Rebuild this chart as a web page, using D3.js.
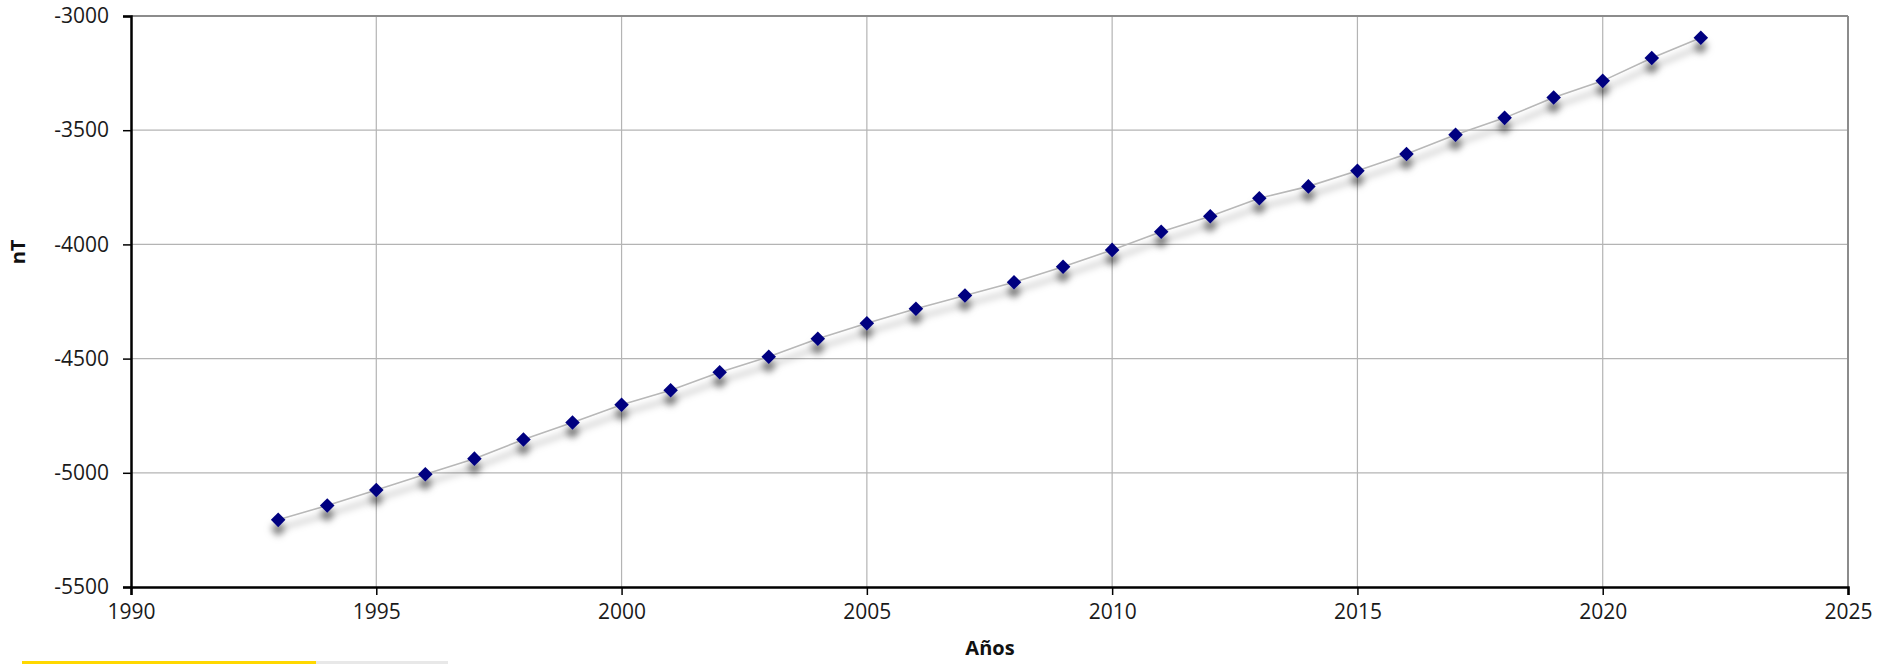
<!DOCTYPE html>
<html><head><meta charset="utf-8">
<script src="https://cdn.jsdelivr.net/npm/d3@7"></script>
<style>
html,body{margin:0;padding:0;background:#fff;}
svg{display:block;}
text{font-family:"Open Sans","Noto Sans",sans-serif;}
</style></head>
<body>
<script>
const years = [1993,1994,1995,1996,1997,1998,1999,2000,2001,2002,2003,2004,2005,2006,2007,2008,2009,2010,2011,2012,2013,2014,2015,2016,2017,2018,2019,2020,2021,2022];
const values = [-5206,-5143,-5075,-5006,-4938,-4854,-4780,-4702,-4639,-4560,-4492,-4413,-4345,-4282,-4224,-4166,-4098,-4024,-3945,-3877,-3798,-3746,-3678,-3604,-3520,-3446,-3357,-3284,-3184,-3095];
const xTicks = [1990,1995,2000,2005,2010,2015,2020,2025];
const yTicks = [-5500,-5000,-4500,-4000,-3500,-3000];
const xLabel = "Años";
const yLabel = "nT";

const W = 1881, H = 665;
const L = 131, R = 1848, T = 16, B = 587;
const svg = d3.select("body").append("svg").attr("width", W).attr("height", H);

const defs = svg.append("defs");
const f = defs.append("filter").attr("id","sh").attr("x","-100%").attr("y","-100%").attr("width","300%").attr("height","300%");
f.append("feDropShadow").attr("dx",0).attr("dy",9).attr("stdDeviation",3.5).attr("flood-color","#000").attr("flood-opacity",0.5);

const x = d3.scaleLinear().domain([1990,2025]).range([L,R]);
const y = d3.scaleLinear().domain([-5500,-3000]).range([B,T]);

// grid
svg.append("g").selectAll("line").data(xTicks.slice(1,-1)).join("line")
  .attr("x1",d=>x(d)).attr("x2",d=>x(d)).attr("y1",T).attr("y2",B)
  .attr("stroke","#b4b4b4").attr("stroke-width",1.2);
svg.append("g").selectAll("line").data(yTicks.slice(1,-1)).join("line")
  .attr("x1",L).attr("x2",R).attr("y1",d=>y(d)).attr("y2",d=>y(d))
  .attr("stroke","#b4b4b4").attr("stroke-width",1.2);

// top & right border
svg.append("line").attr("x1",L).attr("x2",R).attr("y1",T).attr("y2",T).attr("stroke","#8c8c8c").attr("stroke-width",2);
svg.append("line").attr("x1",R).attr("x2",R).attr("y1",T).attr("y2",B).attr("stroke","#8c8c8c").attr("stroke-width",2);

// axes
const xAxis = d3.axisBottom(x).tickValues(xTicks).tickFormat(d3.format("d")).tickSizeOuter(0).tickSize(8).tickPadding(9);
const gx = svg.append("g").attr("transform",`translate(0,${B})`).call(xAxis);
const yAxis = d3.axisLeft(y).tickValues(yTicks).tickFormat(d=>String(d)).tickSizeOuter(0).tickSize(8).tickPadding(14);
const gy = svg.append("g").attr("transform",`translate(${L},0)`).call(yAxis);
[gx,gy].forEach(g=>{
  g.select(".domain").attr("stroke","#000").attr("stroke-width",2.5);
  g.selectAll(".tick line").attr("stroke","#000").attr("stroke-width",1.5);
  g.selectAll(".tick text").attr("fill","#1a1a1a").style("font-size","21px").style("font-family",'"Open Sans","Noto Sans",sans-serif');
});

// line
const pts = years.map((yr,i)=>[yr,values[i]]);
svg.append("path").datum(pts)
  .attr("d", d3.line().x(d=>x(d[0])).y(d=>y(d[1])))
  .attr("fill","none").attr("stroke","#b8b8b8").attr("stroke-width",1.6).attr("filter","url(#sh)");

// markers
svg.append("g").attr("filter","url(#sh)").selectAll("path").data(pts).join("path")
  .attr("d", d3.symbol().type(d3.symbolDiamond2).size(135))
  .attr("transform", d=>`translate(${x(d[0])},${y(d[1])})`)
  .attr("fill","#000080");

// axis titles
svg.append("text").attr("x",990).attr("y",655).attr("text-anchor","middle")
  .style("font-size","20px").style("font-weight","bold").attr("fill","#111").text(xLabel);
svg.append("text").attr("transform","translate(25,252) rotate(-90)").attr("text-anchor","middle")
  .style("font-size","20px").style("font-weight","bold").attr("fill","#111").text(yLabel);

// bottom progress bar
svg.append("rect").attr("x",22).attr("y",661).attr("width",426).attr("height",3).attr("fill","#e8e8e8");
svg.append("rect").attr("x",22).attr("y",661).attr("width",294).attr("height",3).attr("fill","#ffd800");
</script>
</body></html>
